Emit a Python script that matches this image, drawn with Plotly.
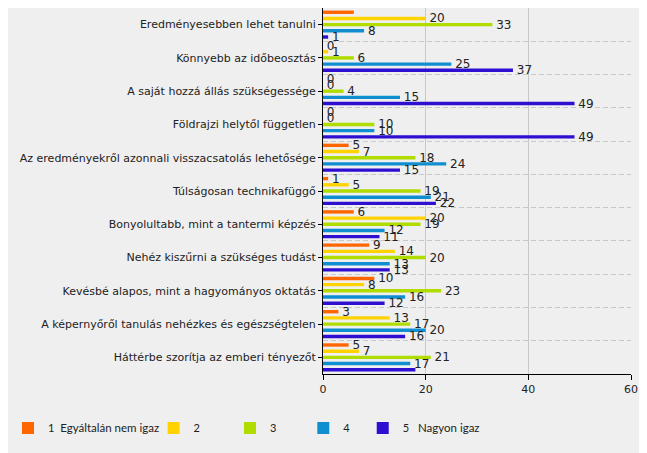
import plotly.graph_objects as go

categories = [
    "Eredményesebben lehet tanulni",
    "Könnyebb az időbeosztás",
    "A saját hozzá állás szükségessége",
    "Földrajzi helytől független",
    "Az eredményekről azonnali visszacsatolás lehetősége",
    "Túlságosan technikafüggő",
    "Bonyolultabb, mint a tantermi képzés",
    "Nehéz kiszűrni a szükséges tudást",
    "Kevésbé alapos, mint a hagyományos oktatás",
    "A képernyőről tanulás nehézkes és egészségtelen",
    "Háttérbe szorítja az emberi tényezőt",
]

s1 = [6, 0, 0, 0, 5, 1, 6, 9, 10, 3, 5]
s2 = [20, 1, 0, 0, 7, 5, 20, 14, 8, 13, 7]
s3 = [33, 6, 4, 10, 18, 19, 19, 20, 23, 17, 21]
s4 = [8, 25, 15, 10, 24, 21, 12, 13, 16, 20, 17]
s5 = [1, 37, 49, 49, 15, 22, 11, 13, 12, 16, 18]

series_names = ["<span style='font-size:11px'>1</span>\u00a0\u00a0Egyáltalán nem igaz",
                "<span style='font-size:11px'>2</span>",
                "<span style='font-size:11px'>3</span>",
                "<span style='font-size:11px'>4</span>",
                "<span style='font-size:11px'>5</span>\u00a0\u00a0\u00a0Nagyon igaz"]
series_values = [s1, s2, s3, s4, s5]
colors = ["#FF6600", "#FFD200", "#B0DC00", "#108FD0", "#2E0ED0"]
legend_x = [-1.024, -0.550, -0.302, -0.064, 0.129]

FONT = "DejaVu Sans, Verdana, sans-serif"
ypos = list(range(len(categories)))
n = len(categories)

fig = go.Figure()
for i, (name, vals, col) in enumerate(zip(series_names, series_values, colors)):
    lg = "legend" if i == 0 else f"legend{i+1}"
    labels = [f" {v}" for v in vals]
    # labels of the outermost bars fall outside the plot area in the original
    if i == 0:
        labels[0] = ""
    if i == len(series_values) - 1:
        labels[n - 1] = ""
    fig.add_trace(go.Bar(
        y=ypos, x=vals, orientation="h", name=name,
        marker=dict(color=col, line=dict(width=0)),
        text=labels, textposition="outside",
        constraintext="none", cliponaxis=True,
        textfont=dict(family=FONT, size=12, color="#222222"),
        legend=lg,
    ))

layout_legends = {}
for i, lx in enumerate(legend_x):
    key = "legend" if i == 0 else f"legend{i+1}"
    layout_legends[key] = dict(
        x=lx, y=-0.1475, xanchor="left", yanchor="middle",
        orientation="h", bgcolor="rgba(0,0,0,0)",
        font=dict(family="Lato", size=11.5, color="#222222"),
    )

fig.update_layout(
    width=639, height=445,
    margin=dict(l=312, r=16, t=0, b=79),
    paper_bgcolor="#EFEFEF", plot_bgcolor="#EFEFEF",
    barmode="group", bargap=0.07, bargroupgap=0.45,
    font=dict(family=FONT, size=11, color="#222222"),
    showlegend=True,
    **layout_legends,
)

fig.update_xaxes(
    range=[0, 60], tickvals=[0, 20, 40, 60],
    showgrid=True, gridcolor="#C8C8C8", gridwidth=1,
    zeroline=False, showline=True, linecolor="#000000", linewidth=1,
    ticks="outside", ticklen=5, tickcolor="#000000",
    tickfont=dict(family=FONT, size=11, color="#222222"),
)
fig.update_yaxes(
    range=[10.5, -0.5], tickmode="array", tickvals=ypos, ticktext=categories,
    showgrid=False, zeroline=False, showline=True, linecolor="#000000", linewidth=1,
    ticks="outside", ticklen=4, tickcolor="#000000",
    tickfont=dict(family=FONT, size=11, color="#222222"),
    minor=dict(tickmode="array", tickvals=[i - 0.5 for i in range(11)],
               showgrid=True, gridcolor="#C8C8C8", griddash="5px,3px", gridwidth=1,
               ticks=""),
)

fig.write_html("out.html")
